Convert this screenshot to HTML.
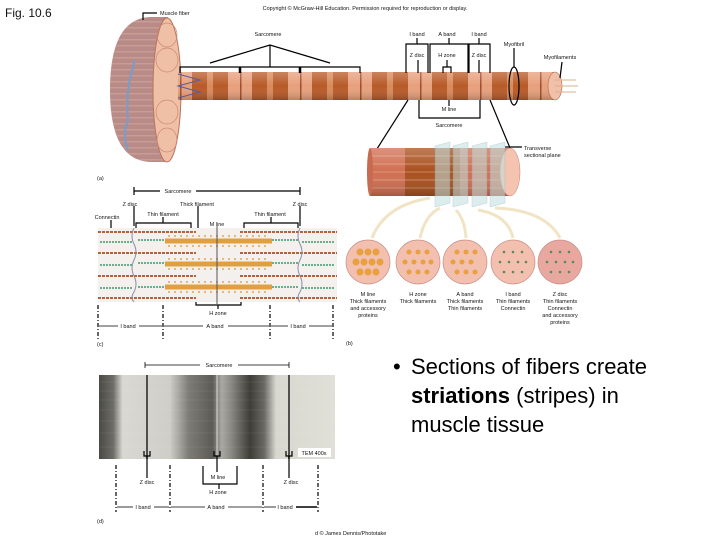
<!DOCTYPE html>
<html><head><meta charset="utf-8"><style>
html,body{margin:0;padding:0;background:#fff;}
svg{display:block;font-family:"Liberation Sans",sans-serif;}
.s{font-size:5.5px;fill:#111;}
</style></head><body>
<svg width="720" height="540" viewBox="0 0 720 540" xmlns="http://www.w3.org/2000/svg">
<defs>
<pattern id="rod" x="180" y="0" width="60" height="40" patternUnits="userSpaceOnUse">
<rect width="60" height="40" fill="#e7a07c"/>
<rect x="12" width="36" height="40" fill="#b85a28"/>
<rect x="27" width="6" height="40" fill="#d98a5a"/>
<rect x="0" width="1.5" height="40" fill="#a04a2a"/>
</pattern>
<pattern id="disk" x="0" y="0" width="60" height="6" patternUnits="userSpaceOnUse">
<rect width="60" height="6" fill="#b88a88"/>
<rect y="3" width="60" height="1.5" fill="#c79c92"/>
</pattern>
<linearGradient id="rodv" x1="0" y1="0" x2="0" y2="1">
<stop offset="0" stop-color="#fff" stop-opacity="0.25"/><stop offset="0.5" stop-color="#fff" stop-opacity="0"/><stop offset="1" stop-color="#000" stop-opacity="0.2"/>
</linearGradient>
<linearGradient id="mic" x1="99" x2="335" gradientUnits="userSpaceOnUse">
<stop offset="0" stop-color="#4a4a44"/><stop offset="0.06" stop-color="#6d6c66"/>
<stop offset="0.1" stop-color="#d9d8d2"/><stop offset="0.3" stop-color="#cfcec8"/>
<stop offset="0.38" stop-color="#7d7c76"/><stop offset="0.48" stop-color="#5c5b55"/>
<stop offset="0.52" stop-color="#a9a8a2"/><stop offset="0.56" stop-color="#8a8983"/>
<stop offset="0.64" stop-color="#3e3d38"/><stop offset="0.7" stop-color="#6a6964"/>
<stop offset="0.75" stop-color="#d8d7d0"/><stop offset="1" stop-color="#e0dfd8"/>
</linearGradient>
</defs>

<text x="5" y="17" font-size="12" fill="#111">Fig. 10.6</text>
<text x="365" y="10" class="s" text-anchor="middle" font-size="5">Copyright © McGraw-Hill Education. Permission required for reproduction or display.</text>

<!-- (a) muscle fiber disk -->
<path d="M152,17 Q110,17 110,90 Q110,162 152,162 L168,162 L168,17 Z" fill="url(#disk)"/>
<path d="M135,60 Q125,90 128,120 Q122,135 128,150" stroke="#7a9cc8" stroke-width="2" fill="none"/>
<ellipse cx="167" cy="90" rx="14" ry="72" fill="#f0c0a6" stroke="#b9745e" stroke-width="1"/>
<g fill="none" stroke="#c98a74" stroke-width="0.7">
<ellipse cx="167" cy="35" rx="10" ry="12"/><ellipse cx="167" cy="60" rx="11" ry="12"/>
<ellipse cx="167" cy="112" rx="11" ry="12"/><ellipse cx="167" cy="140" rx="10" ry="12"/>
</g>
<polyline points="143,20 143,13 157,13" fill="none" stroke="#000" stroke-width="1.2"/>
<text x="160" y="15" class="s">Muscle fiber</text>

<!-- rod -->
<rect x="178" y="72" width="378" height="28" fill="url(#rod)"/>
<rect x="178" y="72" width="378" height="28" fill="url(#rodv)"/>
<path d="M178,74 L200,80 L178,86 L200,92 L178,98" stroke="#5a5a9a" stroke-width="1" fill="none"/>
<ellipse cx="555" cy="86" rx="7" ry="14" fill="#f2c0a8" stroke="#b0654a" stroke-width="0.6"/>
<line x1="555" y1="80" x2="576" y2="80" stroke="#d8b090" stroke-width="1"/>
<line x1="555" y1="86" x2="578" y2="86" stroke="#d8b090" stroke-width="1"/>
<line x1="555" y1="92" x2="576" y2="92" stroke="#d8b090" stroke-width="1"/>
<ellipse cx="514" cy="86" rx="5" ry="19" fill="none" stroke="#000" stroke-width="1.2"/>
<g stroke="#000" stroke-width="1.2" fill="none">
<polyline points="180,73 180,67 360,67 360,73"/>
<line x1="240" y1="67" x2="240" y2="73" stroke-width="2.5"/>
<line x1="300" y1="67" x2="300" y2="73" stroke-width="2.5"/>
<polyline points="210,63 270,45 330,63"/>
<line x1="270" y1="45" x2="270" y2="67"/>
<polyline points="406,73 406,44 428,44 428,73"/>
<line x1="417" y1="44" x2="417" y2="38"/>
<polyline points="430,73 430,44 468,44 468,73"/>
<line x1="449" y1="44" x2="449" y2="38"/>
<polyline points="469,73 469,44 490,44 490,73"/>
<line x1="479" y1="44" x2="479" y2="38"/>
<line x1="418" y1="60" x2="418" y2="73"/>
<line x1="479" y1="60" x2="479" y2="73"/>
<polyline points="443,73 443,67 451,67 451,73"/>
<line x1="447" y1="60" x2="447" y2="67"/>
<line x1="449" y1="100" x2="449" y2="106"/>
<polyline points="419,100 419,118 480,118 480,100"/>
<line x1="514" y1="67" x2="514" y2="48"/>
<line x1="560" y1="78" x2="562" y2="62"/>
<line x1="408" y1="100" x2="375" y2="152"/>
<line x1="490" y1="100" x2="510" y2="148"/>
<line x1="505" y1="147" x2="522" y2="147"/>
</g>
<text x="268" y="36" class="s" text-anchor="middle">Sarcomere</text>
<text x="417" y="36" class="s" text-anchor="middle">I band</text>
<text x="447" y="36" class="s" text-anchor="middle">A band</text>
<text x="479" y="36" class="s" text-anchor="middle">I band</text>
<text x="417" y="57" class="s" text-anchor="middle">Z disc</text>
<text x="447" y="57" class="s" text-anchor="middle">H zone</text>
<text x="479" y="57" class="s" text-anchor="middle">Z disc</text>
<text x="514" y="46" class="s" text-anchor="middle">Myofibril</text>
<text x="560" y="59" class="s" text-anchor="middle">Myofilaments</text>
<text x="449" y="111" class="s" text-anchor="middle">M line</text>
<text x="449" y="127" class="s" text-anchor="middle">Sarcomere</text>
<text x="524" y="150" class="s">Transverse</text>
<text x="524" y="157" class="s">sectional plane</text>
<text x="97" y="180" class="s">(a)</text>

<!-- cylinder -->
<rect x="370" y="148" width="140" height="48" fill="#d06e52"/>
<rect x="405" y="148" width="55" height="48" fill="#a9501f"/>
<g stroke="#f0c098" stroke-width="0.6">
<line x1="370" y1="156" x2="510" y2="156"/><line x1="370" y1="164" x2="510" y2="164"/>
<line x1="370" y1="172" x2="510" y2="172"/><line x1="370" y1="180" x2="510" y2="180"/>
<line x1="370" y1="188" x2="510" y2="188"/>
</g>
<rect x="370" y="148" width="140" height="48" fill="url(#rodv)"/>
<ellipse cx="370" cy="172" rx="3" ry="24" fill="#c86a50"/>
<ellipse cx="510" cy="172" rx="10" ry="24" fill="#f4c4b0" stroke="#c0806a" stroke-width="0.5"/>
<g fill="#bfe0e0" opacity="0.55" stroke="#8ab" stroke-width="0.5">
<polygon points="435,146 450,142 450,203 435,207"/>
<polygon points="453,146 468,142 468,203 453,207"/>
<polygon points="472,146 487,142 487,203 472,207"/>
<polygon points="490,146 505,142 505,203 490,207"/>
</g>
<g stroke="#f0e4c4" stroke-width="3" fill="none">
<path d="M430,198 Q385,205 372,238"/>
<path d="M440,208 Q425,215 420,238"/>
<path d="M456,210 Q465,220 466,238"/>
<path d="M478,210 Q508,215 513,238"/>
<path d="M495,208 Q545,210 560,238"/>
</g>
<g stroke="#c89088" stroke-width="0.7">
<circle cx="368" cy="262" r="22" fill="#f3bfae"/>
<circle cx="418" cy="262" r="22" fill="#f3bfae"/>
<circle cx="465" cy="262" r="22" fill="#f3bfae"/>
<circle cx="513" cy="262" r="22" fill="#f3bfae"/>
<circle cx="560" cy="262" r="22" fill="#e8a8a0"/>
</g>
<g fill="#e8a040">
<circle cx="360" cy="252" r="3.5"/><circle cx="368" cy="252" r="3.5"/><circle cx="376" cy="252" r="3.5"/>
<circle cx="356" cy="262" r="3.5"/><circle cx="364" cy="262" r="3.5"/><circle cx="372" cy="262" r="3.5"/><circle cx="380" cy="262" r="3.5"/>
<circle cx="360" cy="272" r="3.5"/><circle cx="368" cy="272" r="3.5"/><circle cx="376" cy="272" r="3.5"/>
<circle cx="409" cy="252" r="2.5"/><circle cx="418" cy="252" r="2.5"/><circle cx="427" cy="252" r="2.5"/>
<circle cx="405" cy="262" r="2.5"/><circle cx="414" cy="262" r="2.5"/><circle cx="423" cy="262" r="2.5"/><circle cx="431" cy="262" r="2.5"/>
<circle cx="409" cy="272" r="2.5"/><circle cx="418" cy="272" r="2.5"/><circle cx="427" cy="272" r="2.5"/>
<circle cx="457" cy="252" r="2.5"/><circle cx="466" cy="252" r="2.5"/><circle cx="475" cy="252" r="2.5"/>
<circle cx="453" cy="262" r="2.5"/><circle cx="462" cy="262" r="2.5"/><circle cx="471" cy="262" r="2.5"/>
<circle cx="457" cy="272" r="2.5"/><circle cx="466" cy="272" r="2.5"/><circle cx="475" cy="272" r="2.5"/>
</g>
<g fill="#5a8a5a">
<circle cx="504" cy="252" r="1.3"/><circle cx="513" cy="252" r="1.3"/><circle cx="522" cy="252" r="1.3"/>
<circle cx="500" cy="262" r="1.3"/><circle cx="509" cy="262" r="1.3"/><circle cx="518" cy="262" r="1.3"/><circle cx="526" cy="262" r="1.3"/>
<circle cx="504" cy="272" r="1.3"/><circle cx="513" cy="272" r="1.3"/><circle cx="522" cy="272" r="1.3"/>
<circle cx="551" cy="252" r="1.3"/><circle cx="560" cy="252" r="1.3"/><circle cx="569" cy="252" r="1.3"/>
<circle cx="547" cy="262" r="1.3"/><circle cx="556" cy="262" r="1.3"/><circle cx="565" cy="262" r="1.3"/><circle cx="573" cy="262" r="1.3"/>
<circle cx="551" cy="272" r="1.3"/><circle cx="560" cy="272" r="1.3"/><circle cx="569" cy="272" r="1.3"/>
</g>
<g class="s" text-anchor="middle">
<text x="368" y="296">M line</text><text x="368" y="303">Thick filaments</text><text x="368" y="310">and accessory</text><text x="368" y="317">proteins</text>
<text x="418" y="296">H zone</text><text x="418" y="303">Thick filaments</text>
<text x="465" y="296">A band</text><text x="465" y="303">Thick filaments</text><text x="465" y="310">Thin filaments</text>
<text x="513" y="296">I band</text><text x="513" y="303">Thin filaments</text><text x="513" y="310">Connectin</text>
<text x="560" y="296">Z disc</text><text x="560" y="303">Thin filaments</text><text x="560" y="310">Connectin</text><text x="560" y="317">and accessory</text><text x="560" y="324">proteins</text>
</g>
<text x="346" y="345" class="s">(b)</text>

<!-- (c) -->
<g stroke="#000" stroke-width="1.2" fill="none">
<line x1="134" y1="191" x2="300" y2="191"/>
<line x1="134" y1="187" x2="134" y2="195"/><line x1="300" y1="187" x2="300" y2="195"/>
<line x1="134" y1="206" x2="134" y2="226"/><line x1="300" y1="206" x2="300" y2="226"/>
<polyline points="136,228 136,223 191,223 191,228"/><line x1="163" y1="217" x2="163" y2="223"/>
<polyline points="244,228 244,223 298,223 298,228"/><line x1="271" y1="217" x2="271" y2="223"/>
<line x1="198" y1="206" x2="198" y2="232"/>
<line x1="111" y1="220" x2="111" y2="250"/>
<polyline points="196,300 196,305 241,305 241,300"/>
<line x1="218" y1="305" x2="218" y2="309"/>
</g>
<rect x="160" y="187" width="36" height="8" fill="#fff"/>
<text x="178" y="193" class="s" text-anchor="middle">Sarcomere</text>
<rect x="98" y="228" width="239" height="74" fill="#f4f0ee"/>
<g stroke="#b8603a" stroke-width="2" stroke-dasharray="3,1">
<line x1="98" y1="232" x2="196" y2="232"/><line x1="240" y1="232" x2="337" y2="232"/>
<line x1="98" y1="253" x2="196" y2="253"/><line x1="240" y1="253" x2="337" y2="253"/>
<line x1="98" y1="276" x2="196" y2="276"/><line x1="240" y1="276" x2="337" y2="276"/>
<line x1="98" y1="298" x2="196" y2="298"/><line x1="240" y1="298" x2="337" y2="298"/>
</g>
<g stroke="#3a9a6a" stroke-width="1.5" stroke-dasharray="2,1">
<line x1="100" y1="242" x2="132" y2="242"/><line x1="138" y1="240" x2="165" y2="240"/><line x1="272" y1="240" x2="298" y2="240"/><line x1="302" y1="242" x2="334" y2="242"/>
<line x1="100" y1="265" x2="132" y2="265"/><line x1="138" y1="263" x2="165" y2="263"/><line x1="272" y1="263" x2="298" y2="263"/><line x1="302" y1="265" x2="334" y2="265"/>
<line x1="100" y1="288" x2="132" y2="288"/><line x1="138" y1="287" x2="165" y2="287"/><line x1="272" y1="287" x2="298" y2="287"/><line x1="302" y1="288" x2="334" y2="288"/>
</g>
<g stroke="#e0a040" stroke-width="5">
<line x1="165" y1="241" x2="272" y2="241"/><line x1="165" y1="264" x2="272" y2="264"/><line x1="165" y1="287" x2="272" y2="287"/>
</g>
<g stroke="#d89a40" stroke-width="1.2" stroke-dasharray="2,4">
<line x1="168" y1="236" x2="270" y2="236"/><line x1="168" y1="246" x2="270" y2="246"/>
<line x1="168" y1="259" x2="270" y2="259"/><line x1="168" y1="269" x2="270" y2="269"/>
<line x1="168" y1="282" x2="270" y2="282"/><line x1="168" y1="292" x2="270" y2="292"/>
</g>
<path d="M134,228 q-4,8 0,16 q4,8 0,16 q-4,8 0,16 q4,8 0,16 q-4,6 0,10" stroke="#8890a8" fill="none"/>
<path d="M300,228 q-4,8 0,16 q4,8 0,16 q-4,8 0,16 q4,8 0,16 q-4,6 0,10" stroke="#8890a8" fill="none"/>
<line x1="217" y1="226" x2="217" y2="304" stroke="#555" stroke-width="1"/>
<g class="s" text-anchor="middle">
<text x="130" y="206">Z disc</text><text x="300" y="206">Z disc</text>
<text x="197" y="206">Thick filament</text>
<text x="163" y="216">Thin filament</text><text x="270" y="216">Thin filament</text>
<text x="107" y="219">Connectin</text><text x="217" y="226">M line</text>
<text x="218" y="315">H zone</text>
<text x="128" y="328">I band</text><text x="215" y="328">A band</text><text x="298" y="328">I band</text>
</g>
<g stroke="#000" stroke-width="1.2" stroke-dasharray="4,2,1,2">
<line x1="98" y1="305" x2="98" y2="340"/><line x1="163" y1="305" x2="163" y2="340"/>
<line x1="270" y1="305" x2="270" y2="340"/><line x1="333" y1="305" x2="333" y2="340"/>
</g>
<g stroke="#000" stroke-width="0.8">
<line x1="99" y1="326" x2="118" y2="326"/><line x1="139" y1="326" x2="162" y2="326"/>
<line x1="164" y1="326" x2="203" y2="326"/><line x1="228" y1="326" x2="269" y2="326"/>
<line x1="271" y1="326" x2="288" y2="326"/><line x1="309" y1="326" x2="332" y2="326"/>
</g>
<text x="97" y="346" class="s">(c)</text>

<!-- (d) micrograph -->
<g stroke="#000" stroke-width="0.8">
<line x1="145" y1="365" x2="200" y2="365"/><line x1="238" y1="365" x2="289" y2="365"/>
<line x1="145" y1="362" x2="145" y2="368"/><line x1="289" y1="362" x2="289" y2="368"/>
</g>
<text x="219" y="367" class="s" text-anchor="middle">Sarcomere</text>
<rect x="99" y="375" width="236" height="84" fill="url(#mic)"/>
<g stroke="#fff" stroke-opacity="0.12" stroke-width="0.6">
<line x1="99" y1="382" x2="335" y2="382"/><line x1="99" y1="391" x2="335" y2="391"/><line x1="99" y1="400" x2="335" y2="400"/>
<line x1="99" y1="410" x2="335" y2="410"/><line x1="99" y1="421" x2="335" y2="421"/><line x1="99" y1="433" x2="335" y2="433"/><line x1="99" y1="447" x2="335" y2="447"/>
</g>
<line x1="147" y1="375" x2="147" y2="459" stroke="#222" stroke-width="1.5"/>
<line x1="289" y1="375" x2="289" y2="459" stroke="#222" stroke-width="1.5"/>
<line x1="217" y1="375" x2="217" y2="459" stroke="#ddd" stroke-width="1"/>
<rect x="298" y="448" width="33" height="9" fill="#fff"/>
<text x="314" y="455" class="s" text-anchor="middle">TEM 400x</text>
<g stroke="#000" stroke-width="1.2" fill="none">
<polyline points="144,451 144,456 150,456 150,451"/><line x1="147" y1="456" x2="147" y2="478"/>
<polyline points="214,451 214,456 220,456 220,451"/><line x1="217" y1="456" x2="217" y2="472"/>
<polyline points="286,451 286,456 292,456 292,451"/><line x1="289" y1="456" x2="289" y2="478"/>
<polyline points="203,466 203,484 237,484 237,466"/><line x1="219" y1="484" x2="219" y2="489"/>
</g>
<g class="s" text-anchor="middle">
<text x="147" y="484">Z disc</text><text x="218" y="479">M line</text><text x="291" y="484">Z disc</text>
<text x="218" y="494">H zone</text>
<text x="143" y="509">I band</text><text x="216" y="509">A band</text><text x="285" y="509">I band</text>
</g>
<g stroke="#000" stroke-width="1.2" stroke-dasharray="4,2,1,2">
<line x1="116" y1="465" x2="116" y2="512"/><line x1="170" y1="465" x2="170" y2="512"/>
<line x1="263" y1="465" x2="263" y2="512"/><line x1="318" y1="465" x2="318" y2="512"/>
</g>
<g stroke="#000" stroke-width="0.8">
<line x1="117" y1="507" x2="133" y2="507"/><line x1="154" y1="507" x2="169" y2="507"/>
<line x1="171" y1="507" x2="205" y2="507"/><line x1="228" y1="507" x2="262" y2="507"/>
<line x1="264" y1="507" x2="276" y2="507"/><line x1="296" y1="507" x2="317" y2="507" stroke-width="1.5"/>
</g>
<text x="97" y="523" class="s">(d)</text>
<text x="315" y="535" class="s">d © James Dennis/Phototake</text>

<g font-size="22" fill="#000">
<text x="393" y="374">•</text>
<text x="411" y="374">Sections of fibers create</text>
<text x="411" y="403"><tspan font-weight="bold">striations</tspan> (stripes) in</text>
<text x="411" y="432">muscle tissue</text>
</g>
</svg>
</body></html>
